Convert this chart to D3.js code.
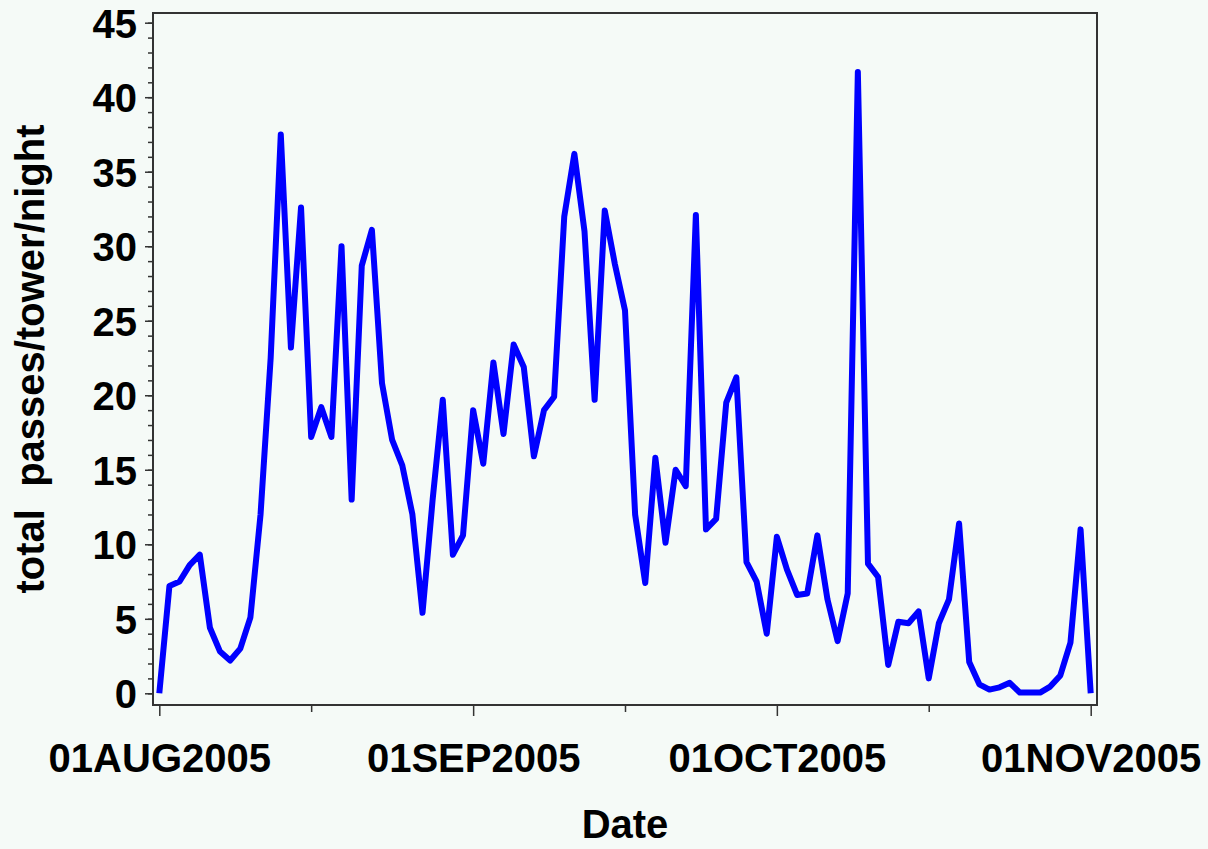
<!DOCTYPE html>
<html>
<head>
<meta charset="utf-8">
<script src="https://cdn.jsdelivr.net/npm/d3@7"></script>
<style>
  body { margin: 0; background: #f5faf7; }
  svg { display: block; }
  text { font-family: "Liberation Sans", Arial, sans-serif; font-weight: bold; fill: #000; }
  .axis path { display: none; }
  .axis line { stroke: #333; stroke-width: 1.5; }
</style>
</head>
<body>
<div id="chart"></div>
<script>
// nightly totals, 01AUG2005 .. 01NOV2005 (one value per night)
var start_day = new Date(Date.UTC(2005, 7, 1));
var end_day = new Date(Date.UTC(2005, 10, 1));
var passes = [
  0, 7.2, 7.5, 8.6, 9.3, 4.4, 2.8, 2.2, 3.0, 5.1,
  12.0, 22.5, 37.5, 23.2, 32.6, 17.2, 19.2, 17.2, 30.0, 13.0,
  28.7, 31.1, 20.8, 17.0, 15.3, 12.0, 5.4, 13.0, 19.7, 9.3,
  10.6, 19.0, 15.4, 22.2, 17.4, 23.4, 21.9, 15.9, 19.0, 19.9,
  32.0, 36.2, 31.0, 19.7, 32.4, 28.8, 25.7, 12.0, 7.4, 15.8,
  10.1, 15.0, 13.9, 32.1, 11.0, 11.7, 19.5, 21.2, 8.8, 7.5,
  4.0, 10.5, 8.3, 6.6, 6.7, 10.6, 6.3, 3.5, 6.7, 41.7,
  8.7, 7.8, 1.9, 4.8, 4.7, 5.5, 1.0, 4.7, 6.3, 11.4,
  2.1, 0.6, 0.25, 0.4, 0.7, 0.05, 0.05, 0.05, 0.45, 1.2,
  3.4, 11.0, 0
];
var y_ticks = [0, 5, 10, 15, 20, 25, 30, 35, 40, 45];
var x_ticks = ["2005-08-01", "2005-09-01", "2005-10-01", "2005-11-01"];
var x_minor = ["2005-08-16", "2005-09-16", "2005-10-16"];
var x_title = "Date";
var y_title = "total  passes/tower/night";

var width = 1208;
var height = 849;

var dates = d3.utcDay.range(start_day, d3.utcDay.offset(end_day, 1));
var data = dates.map(function(d, i) { return {date: d, value: passes[i]}; });

var svg = d3.select('#chart')
  .append('svg')
  .attr('width', width)
  .attr('height', height);

// frame of the plot area
var frame = {left: 153, right: 1097, top: 13, bottom: 705};

var x = d3.scaleUtc()
  .domain([start_day, end_day])
  .range([159.3, 1090.7]);

var y = d3.scaleLinear()
  .domain([0, 45])
  .range([693.3, 22.7]);

var fmt = d3.utcFormat("%d%b%Y");

svg.append('rect')
  .attr('x', frame.left)
  .attr('y', frame.top)
  .attr('width', frame.right - frame.left)
  .attr('height', frame.bottom - frame.top)
  .attr('fill', '#f5faf7')
  .attr('stroke', '#333')
  .attr('stroke-width', 2);

// y axis, minor then major ticks
svg.append('g')
  .attr('class', 'axis')
  .attr('transform', 'translate(' + frame.left + ',0)')
  .call(d3.axisLeft(y).tickValues(d3.range(0, 46, 1)).tickSize(5).tickFormat(''));

var yAxis = svg.append('g')
  .attr('class', 'axis')
  .attr('transform', 'translate(' + frame.left + ',0)')
  .call(d3.axisLeft(y).tickValues(y_ticks).tickSize(8).tickPadding(8));
yAxis.selectAll('text')
  .style('font-size', '40px')
  .attr('dy', '0.36em');

// x axis
svg.append('g')
  .attr('class', 'axis')
  .attr('transform', 'translate(0,' + frame.bottom + ')')
  .call(d3.axisBottom(x).tickValues(x_minor.map(function(s) { return new Date(s); })).tickSize(7).tickFormat(''));

var xAxis = svg.append('g')
  .attr('class', 'axis')
  .attr('transform', 'translate(0,' + frame.bottom + ')')
  .call(d3.axisBottom(x)
    .tickValues(x_ticks.map(function(s) { return new Date(s); }))
    .tickSize(11)
    .tickPadding(28)
    .tickFormat(function(d) { return fmt(d).toUpperCase(); }));
xAxis.selectAll('text')
  .style('font-size', '40px')
  .attr('dy', '0.71em');

// the series
var line = d3.line()
  .x(function(d) { return x(d.date); })
  .y(function(d) { return y(d.value); });

svg.append('path')
  .datum(data)
  .attr('fill', 'none')
  .attr('stroke', '#0000ff')
  .attr('stroke-width', 6)
  .attr('stroke-linejoin', 'round')
  .attr('d', line);

// titles
svg.append('text')
  .attr('x', (frame.left + frame.right) / 2)
  .attr('y', 838)
  .attr('text-anchor', 'middle')
  .style('font-size', '40px')
  .text(x_title);

svg.append('text')
  .attr('transform', 'translate(44,359) rotate(-90)')
  .attr('text-anchor', 'middle')
  .style('font-size', '40px')
  .style('white-space', 'pre')
  .attr('xml:space', 'preserve')
  .text(y_title);
</script>
</body>
</html>
